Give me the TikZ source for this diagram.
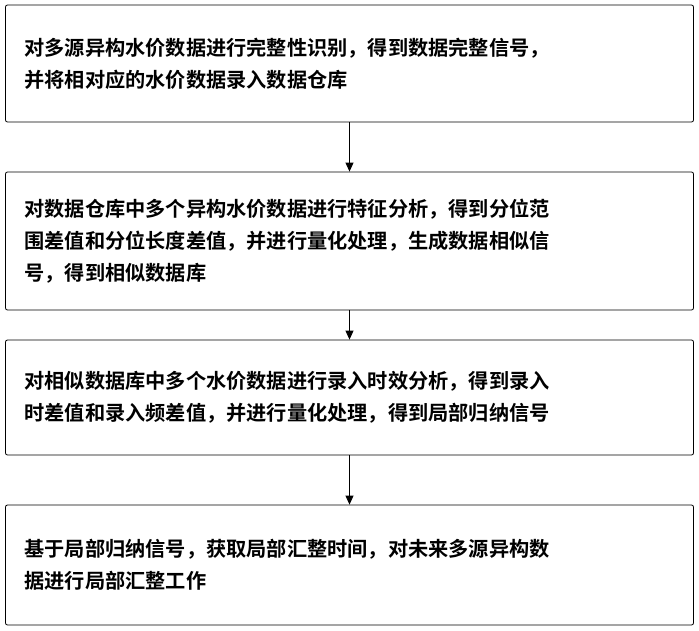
\documentclass[tikz,border=0pt]{standalone}
\usepackage{fontspec}
\newfontfamily\cjk{Noto Sans CJK SC}[BoldFont={Noto Sans CJK SC Bold}]
\usetikzlibrary{positioning,arrows.meta}
\tikzset{
  stepbox/.style={draw, thick, rounded corners=2pt, minimum width=688pt,
    text width=650pt, align=left, inner xsep=19pt,
    font=\cjk\bfseries\fontsize{20.2}{32}\selectfont},
  flow/.style={-{Triangle[length=9pt,width=8pt]}, thick}
}
\begin{document}
\begin{tikzpicture}[x=1pt,y=1pt]
\useasboundingbox (0,0) rectangle (699,-630);
\node[stepbox, minimum height=117pt] (identify) at (349.5,-63.5)
  {对多源异构水价数据进行完整性识别，得到数据完整信号，\\并将相对应的水价数据录入数据仓库};
\node[stepbox, minimum height=138pt] (feature) at (349.5,-241)
  {对数据仓库中多个异构水价数据进行特征分析，得到分位范\\围差值和分位长度差值，并进行量化处理，生成数据相似信\\号，得到相似数据库};
\node[stepbox, minimum height=115pt] (timing) at (349.5,-397.5)
  {对相似数据库中多个水价数据进行录入时效分析，得到录入\\时差值和录入频差值，并进行量化处理，得到局部归纳信号};
\node[stepbox, minimum height=120pt] (merge) at (349.5,-565)
  {基于局部归纳信号，获取局部汇整时间，对未来多源异构数\\据进行局部汇整工作};
\draw[flow] (identify) -- (feature);
\draw[flow] (feature) -- (timing);
\draw[flow] (timing) -- (merge);
\end{tikzpicture}
\end{document}
